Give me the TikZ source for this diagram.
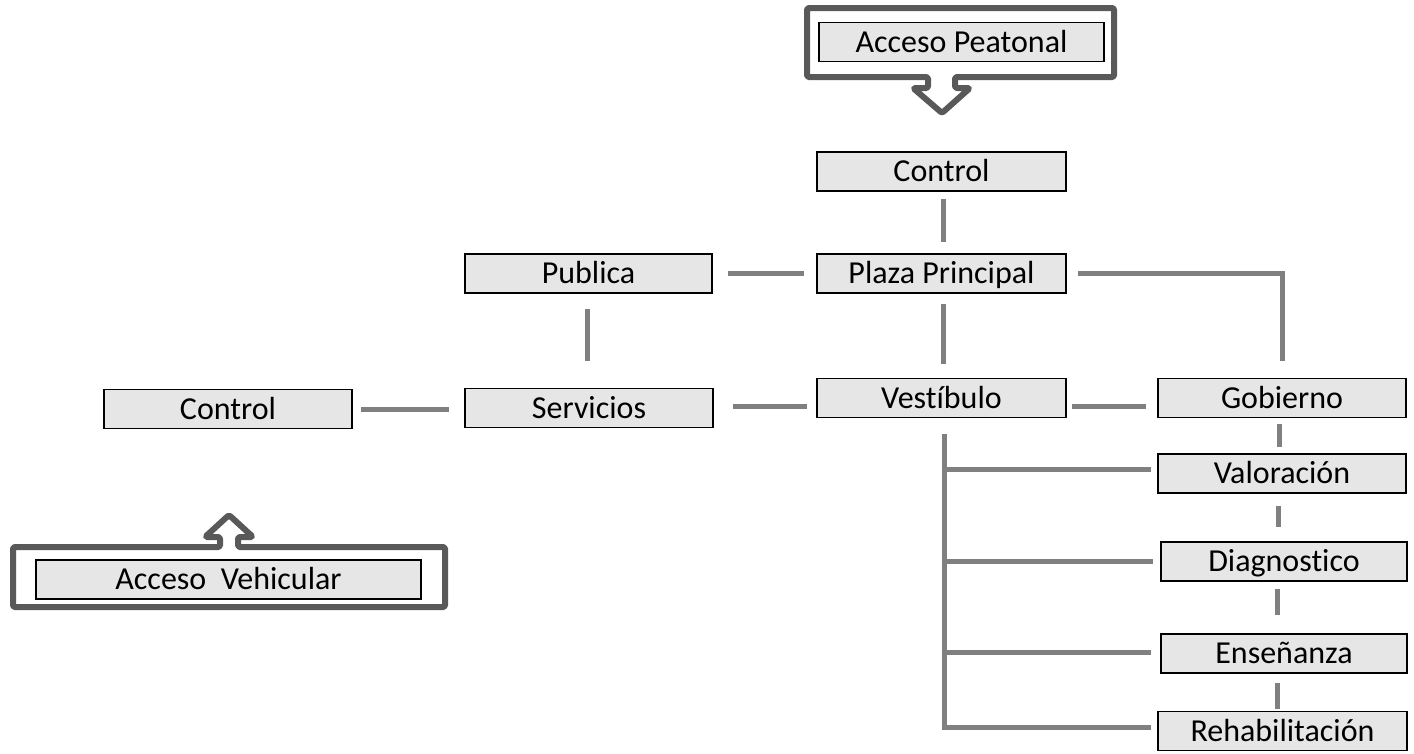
\documentclass[tikz,border=0pt]{standalone}
\usepackage{fontspec}
\setmainfont{Carlito}[Ligatures=NoCommon, RawFeature=-liga]
\usetikzlibrary{calc}
\definecolor{boxfill}{HTML}{E6E6E6}
\definecolor{conngray}{HTML}{808080}
\definecolor{framegray}{HTML}{595959}
\tikzset{
  bx/.style={draw=black, line width=1.5pt, fill=boxfill, rectangle, inner sep=0pt,
    minimum height=39pt, text height=20.5pt, text depth=0pt, font=\fontsize{32}{34}\selectfont},
  conn/.style={draw=conngray, line width=5pt, line cap=butt},
  frame/.style={draw=framegray, line width=6pt, line join=round, rounded corners=1.5pt},
}
\begin{document}
\begin{tikzpicture}[x=1pt,y=-1pt]
\useasboundingbox (0,0) rectangle (1414,753);
% frames with arrows
\draw[frame] (807,8) -- (1114,8) -- (1114,77) -- (955,77) -- (955,88) -- (970,88) -- (942,113) -- (913,88) -- (928,88) -- (928,77) -- (807,77) -- cycle;
\draw[frame] (13,547) -- (220,547) -- (220,537) -- (205,537) -- (229,515) -- (253,537) -- (238,537) -- (238,547) -- (445,547) -- (445,607) -- (13,607) -- cycle;
% nodes
\node[bx, minimum width=285pt] (apeat) at (961.5,42) {Acceso Peatonal};
\node[bx, minimum width=249pt] (ctrlA) at (941.5,171.5) {Control};
\node[bx, minimum width=249pt] (plaza) at (941.5,273.5) {Plaza Principal};
\node[bx, minimum width=247pt] (publica) at (588.5,273.5) {Publica};
\node[bx, minimum width=249pt] (vest) at (941.5,398) {Vestíbulo};
\node[bx, minimum width=248pt] (serv) at (589,408) {Servicios};
\node[bx, minimum width=248pt] (ctrlB) at (228,409) {Control};
\node[bx, minimum width=248pt] (gob) at (1282,398) {Gobierno};
\node[bx, minimum width=248pt] (val) at (1282,473.5) {Valoración};
\node[bx, minimum width=246pt] (diag) at (1284,561.5) {Diagnostico};
\node[bx, minimum width=246pt] (ens) at (1284,653.5) {Enseñanza};
\node[bx, minimum width=249pt] (rehab) at (1282.5,731) {Rehabilitación};
\node[bx, minimum width=385pt] (aveh) at (228.5,579.5) {Acceso\ \ Vehicular};
% connectors
\draw[conn, shorten <=7pt, shorten >=11pt] ([xshift=1.5pt]ctrlA.south) -- ([xshift=1.5pt]plaza.north);
\draw[conn, shorten <=10pt, shorten >=14pt] ([xshift=1.5pt]plaza.south) -- ([xshift=1.5pt]vest.north);
\draw[conn, shorten <=15pt, shorten >=12pt] (publica.east) -- (publica.east -| plaza.west);
\draw[conn, shorten <=11pt, shorten >=17pt] (plaza.east) -| (gob.north);
\draw[conn, shorten <=15pt, shorten >=27pt] ([xshift=-1.5pt]publica.south) -- ([xshift=-1.5pt]publica.south |- serv.north);
\draw[conn, shorten <=8pt, shorten >=15pt] (ctrlB.east) -- (ctrlB.east -| serv.west);
\draw[conn, shorten <=19pt, shorten >=9pt] ([yshift=2pt]serv.east) -- ([yshift=2pt]serv.east -| vest.west);
\draw[conn, shorten <=5pt, shorten >=11pt] ([yshift=-8pt]vest.east) -- ([yshift=-8pt]gob.west);
\draw[conn, shorten <=6pt, shorten >=6pt] ([xshift=-3pt]gob.south) -- ([xshift=-3pt]gob.south |- val.north);
\draw[conn, shorten <=12pt, shorten >=14pt] ([xshift=-4pt]val.south) -- ([xshift=-4pt]val.south |- diag.north);
\draw[conn, shorten <=7pt, shorten >=18pt] ([xshift=-7pt]diag.south) -- ([xshift=-7pt]diag.south |- ens.north);
\draw[conn, shorten <=9pt, shorten >=2pt] ([xshift=-7pt]ens.south) -- ([xshift=-7pt]ens.south |- rehab.north);
% trunk
\coordinate (ttop) at ([xshift=2.5pt,yshift=-16pt]vest.south);
\draw[conn] (ttop) |- ([xshift=-6pt,yshift=4pt]rehab.west);
\draw[conn, shorten >=6pt] (ttop |- val.west) ++(0,-4.5) -- ([yshift=4.5pt]val.west);
\draw[conn, shorten >=7pt] (ttop |- diag.west) -- (diag.west);
\draw[conn, shorten >=9pt] ([yshift=1.5pt]ttop |- ens.west) -- ([yshift=1.5pt]ens.west);
\end{tikzpicture}
\end{document}
